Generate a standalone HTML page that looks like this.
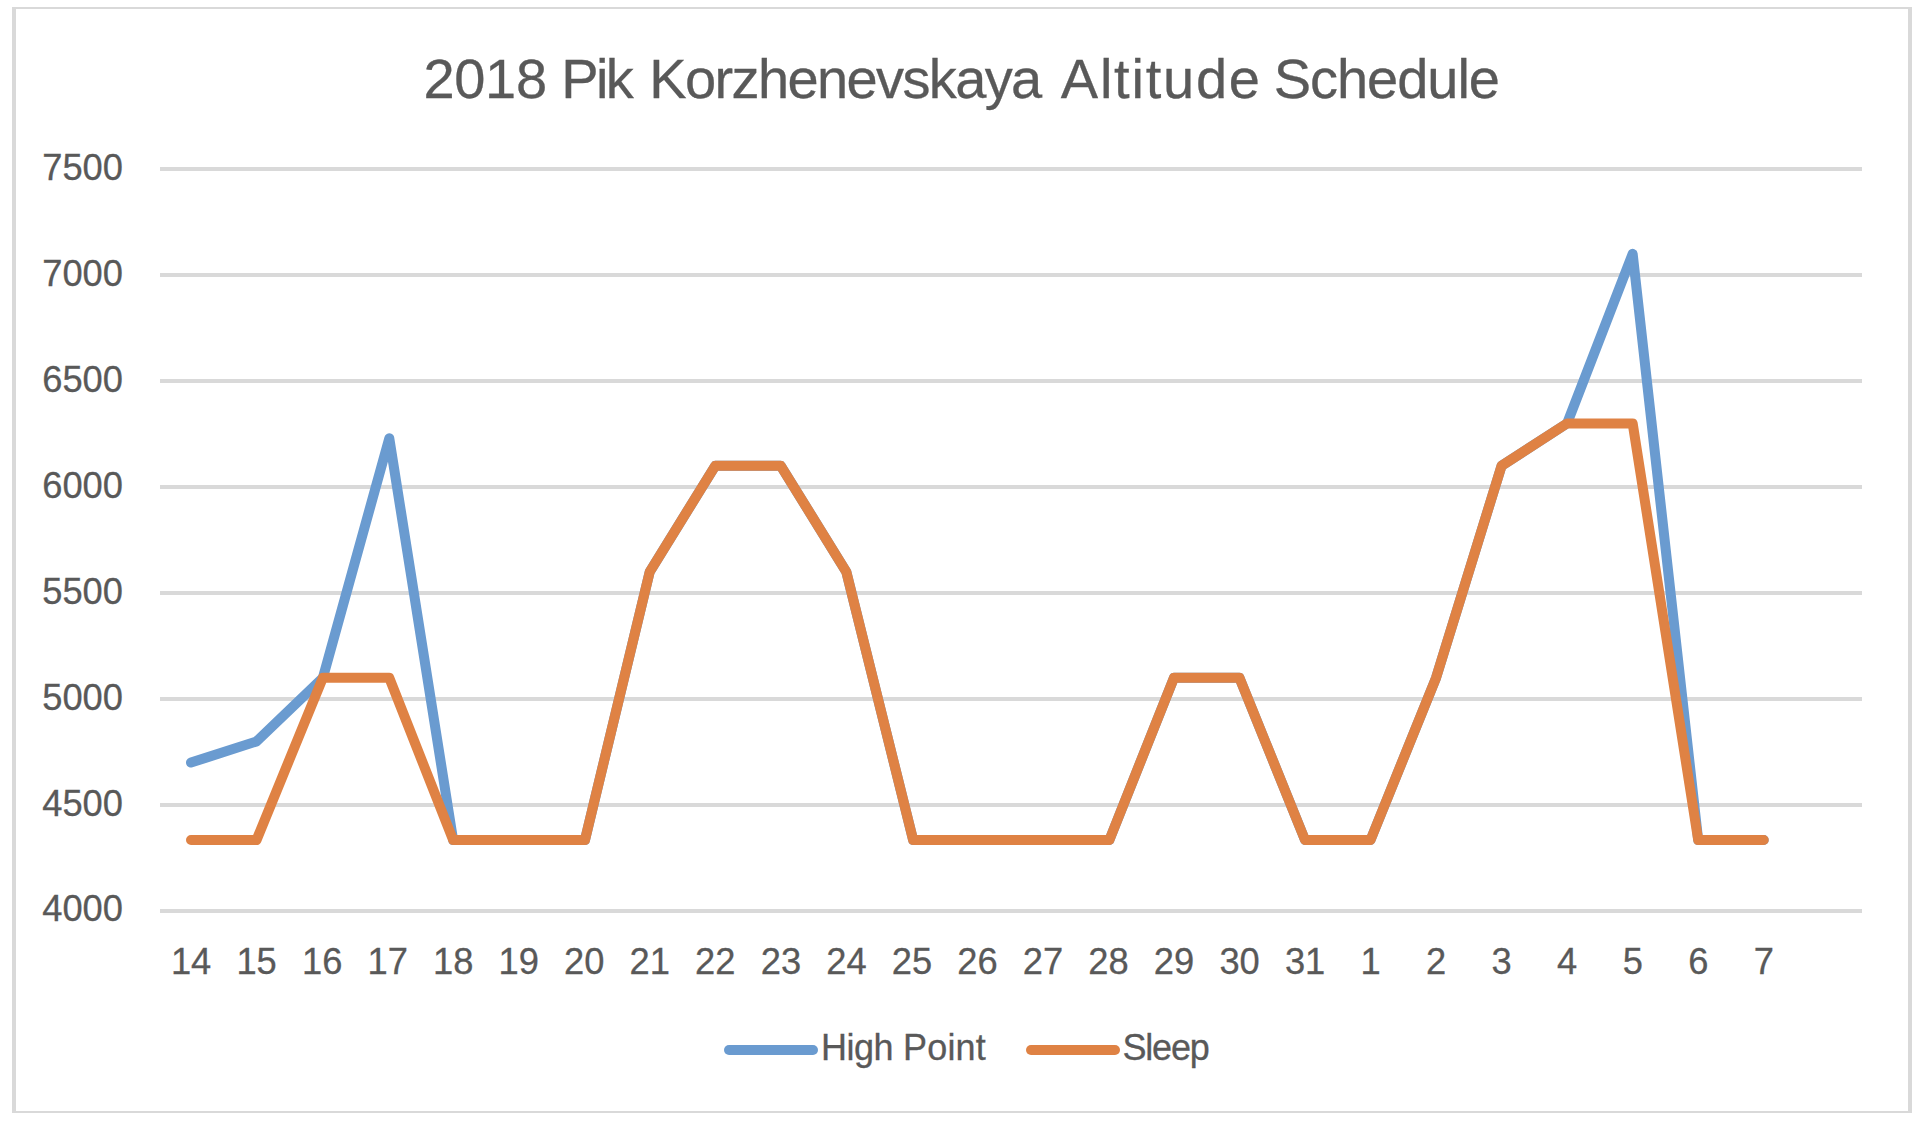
<!DOCTYPE html>
<html lang="en"><head><meta charset="utf-8"><title>2018 Pik Korzhenevskaya Altitude Schedule</title>
<style>html,body{margin:0;padding:0;background:#fff;overflow:hidden}svg{display:block}text{font-family:"Liberation Sans",Arial,sans-serif;fill:#595959;stroke:#595959;stroke-width:0.3px;white-space:pre}</style></head><body>
<svg width="1920" height="1122" viewBox="0 0 1920 1122">
<rect x="0" y="0" width="1920" height="1122" fill="#fff"/>
<g fill="#D9D9D9" shape-rendering="crispEdges"><rect x="12" y="7" width="1900" height="2"/><rect x="12" y="1111" width="1900" height="2"/><rect x="12" y="7" width="4" height="1106"/><rect x="1908" y="7" width="4" height="1106"/></g>
<g fill="#D9D9D9" shape-rendering="crispEdges">
<rect x="160" y="167" width="1702" height="4"/>
<rect x="160" y="273" width="1702" height="4"/>
<rect x="160" y="379" width="1702" height="4"/>
<rect x="160" y="485" width="1702" height="4"/>
<rect x="160" y="591" width="1702" height="4"/>
<rect x="160" y="697" width="1702" height="4"/>
<rect x="160" y="803" width="1702" height="4"/>
<rect x="160" y="909" width="1702" height="4"/>
</g>
<text y="97.8" font-size="56.00" x="423.4 454.3 485.1 516.0 547.1 561.2 595.9 605.7 633.7 649.3 685.0 714.6 731.6 758.0 787.5 817.0 846.5 876.0 902.4 928.8 955.2 984.7 1011.1 1042.2 1060.8 1099.9 1114.1 1131.5 1145.7 1163.0 1195.9 1228.8 1260.0 1273.7 1310.0 1337.0 1367.1 1397.2 1427.3 1457.4 1468.8">2018 Pik Korzhenevskaya Altitude Schedule</text>
<text x="123" y="180.3" font-size="36.3" text-anchor="end">7500</text>
<text x="123" y="286.2" font-size="36.3" text-anchor="end">7000</text>
<text x="123" y="392.0" font-size="36.3" text-anchor="end">6500</text>
<text x="123" y="497.9" font-size="36.3" text-anchor="end">6000</text>
<text x="123" y="603.7" font-size="36.3" text-anchor="end">5500</text>
<text x="123" y="709.6" font-size="36.3" text-anchor="end">5000</text>
<text x="123" y="815.5" font-size="36.3" text-anchor="end">4500</text>
<text x="123" y="921.3" font-size="36.3" text-anchor="end">4000</text>
<text x="191.1" y="974.3" font-size="36.3" text-anchor="middle">14</text>
<text x="256.6" y="974.3" font-size="36.3" text-anchor="middle">15</text>
<text x="322.2" y="974.3" font-size="36.3" text-anchor="middle">16</text>
<text x="387.7" y="974.3" font-size="36.3" text-anchor="middle">17</text>
<text x="453.2" y="974.3" font-size="36.3" text-anchor="middle">18</text>
<text x="518.8" y="974.3" font-size="36.3" text-anchor="middle">19</text>
<text x="584.3" y="974.3" font-size="36.3" text-anchor="middle">20</text>
<text x="649.8" y="974.3" font-size="36.3" text-anchor="middle">21</text>
<text x="715.3" y="974.3" font-size="36.3" text-anchor="middle">22</text>
<text x="780.9" y="974.3" font-size="36.3" text-anchor="middle">23</text>
<text x="846.4" y="974.3" font-size="36.3" text-anchor="middle">24</text>
<text x="911.9" y="974.3" font-size="36.3" text-anchor="middle">25</text>
<text x="977.5" y="974.3" font-size="36.3" text-anchor="middle">26</text>
<text x="1043.0" y="974.3" font-size="36.3" text-anchor="middle">27</text>
<text x="1108.5" y="974.3" font-size="36.3" text-anchor="middle">28</text>
<text x="1174.0" y="974.3" font-size="36.3" text-anchor="middle">29</text>
<text x="1239.6" y="974.3" font-size="36.3" text-anchor="middle">30</text>
<text x="1305.1" y="974.3" font-size="36.3" text-anchor="middle">31</text>
<text x="1370.6" y="974.3" font-size="36.3" text-anchor="middle">1</text>
<text x="1436.2" y="974.3" font-size="36.3" text-anchor="middle">2</text>
<text x="1501.7" y="974.3" font-size="36.3" text-anchor="middle">3</text>
<text x="1567.2" y="974.3" font-size="36.3" text-anchor="middle">4</text>
<text x="1632.8" y="974.3" font-size="36.3" text-anchor="middle">5</text>
<text x="1698.3" y="974.3" font-size="36.3" text-anchor="middle">6</text>
<text x="1763.8" y="974.3" font-size="36.3" text-anchor="middle">7</text>
<polyline points="191.00,762.60 256.53,741.40 322.86,677.80 389.29,438.24 453.12,840.00 518.65,840.00 584.98,840.00 649.71,571.80 715.24,465.80 780.77,465.80 846.30,571.80 913.13,840.00 977.36,840.00 1042.89,840.00 1109.42,840.00 1173.95,677.80 1239.48,677.80 1305.01,840.00 1370.54,840.00 1436.07,677.80 1501.60,465.80 1567.13,423.40 1632.66,253.80 1698.19,840.00 1763.72,840.00" fill="none" stroke="#6A9BD0" stroke-width="10" stroke-linecap="round" stroke-linejoin="round"/>
<polyline points="191.00,840.00 256.53,840.00 322.86,677.80 389.29,677.80 453.12,840.00 518.65,840.00 584.98,840.00 649.71,571.80 715.24,465.80 780.77,465.80 846.30,571.80 913.13,840.00 977.36,840.00 1042.89,840.00 1109.42,840.00 1173.95,677.80 1239.48,677.80 1305.01,840.00 1370.54,840.00 1436.07,677.80 1501.60,465.80 1567.13,423.40 1632.66,423.40 1698.19,840.00 1763.72,840.00" fill="none" stroke="#DF8244" stroke-width="10" stroke-linecap="round" stroke-linejoin="round"/>
<line x1="729" y1="1050" x2="813" y2="1050" stroke="#6A9BD0" stroke-width="10" stroke-linecap="round"/>
<text y="1059.8" font-size="36.00" x="820.9 846.5 854.0 873.5 893.5 903.0 927.2 947.4 955.5 975.7">High Point</text>
<line x1="1031" y1="1050" x2="1115" y2="1050" stroke="#DF8244" stroke-width="10" stroke-linecap="round"/>
<text y="1059.8" font-size="36.00" x="1122.5 1145.3 1152.1 1170.9 1189.7">Sleep</text>
</svg></body></html>
